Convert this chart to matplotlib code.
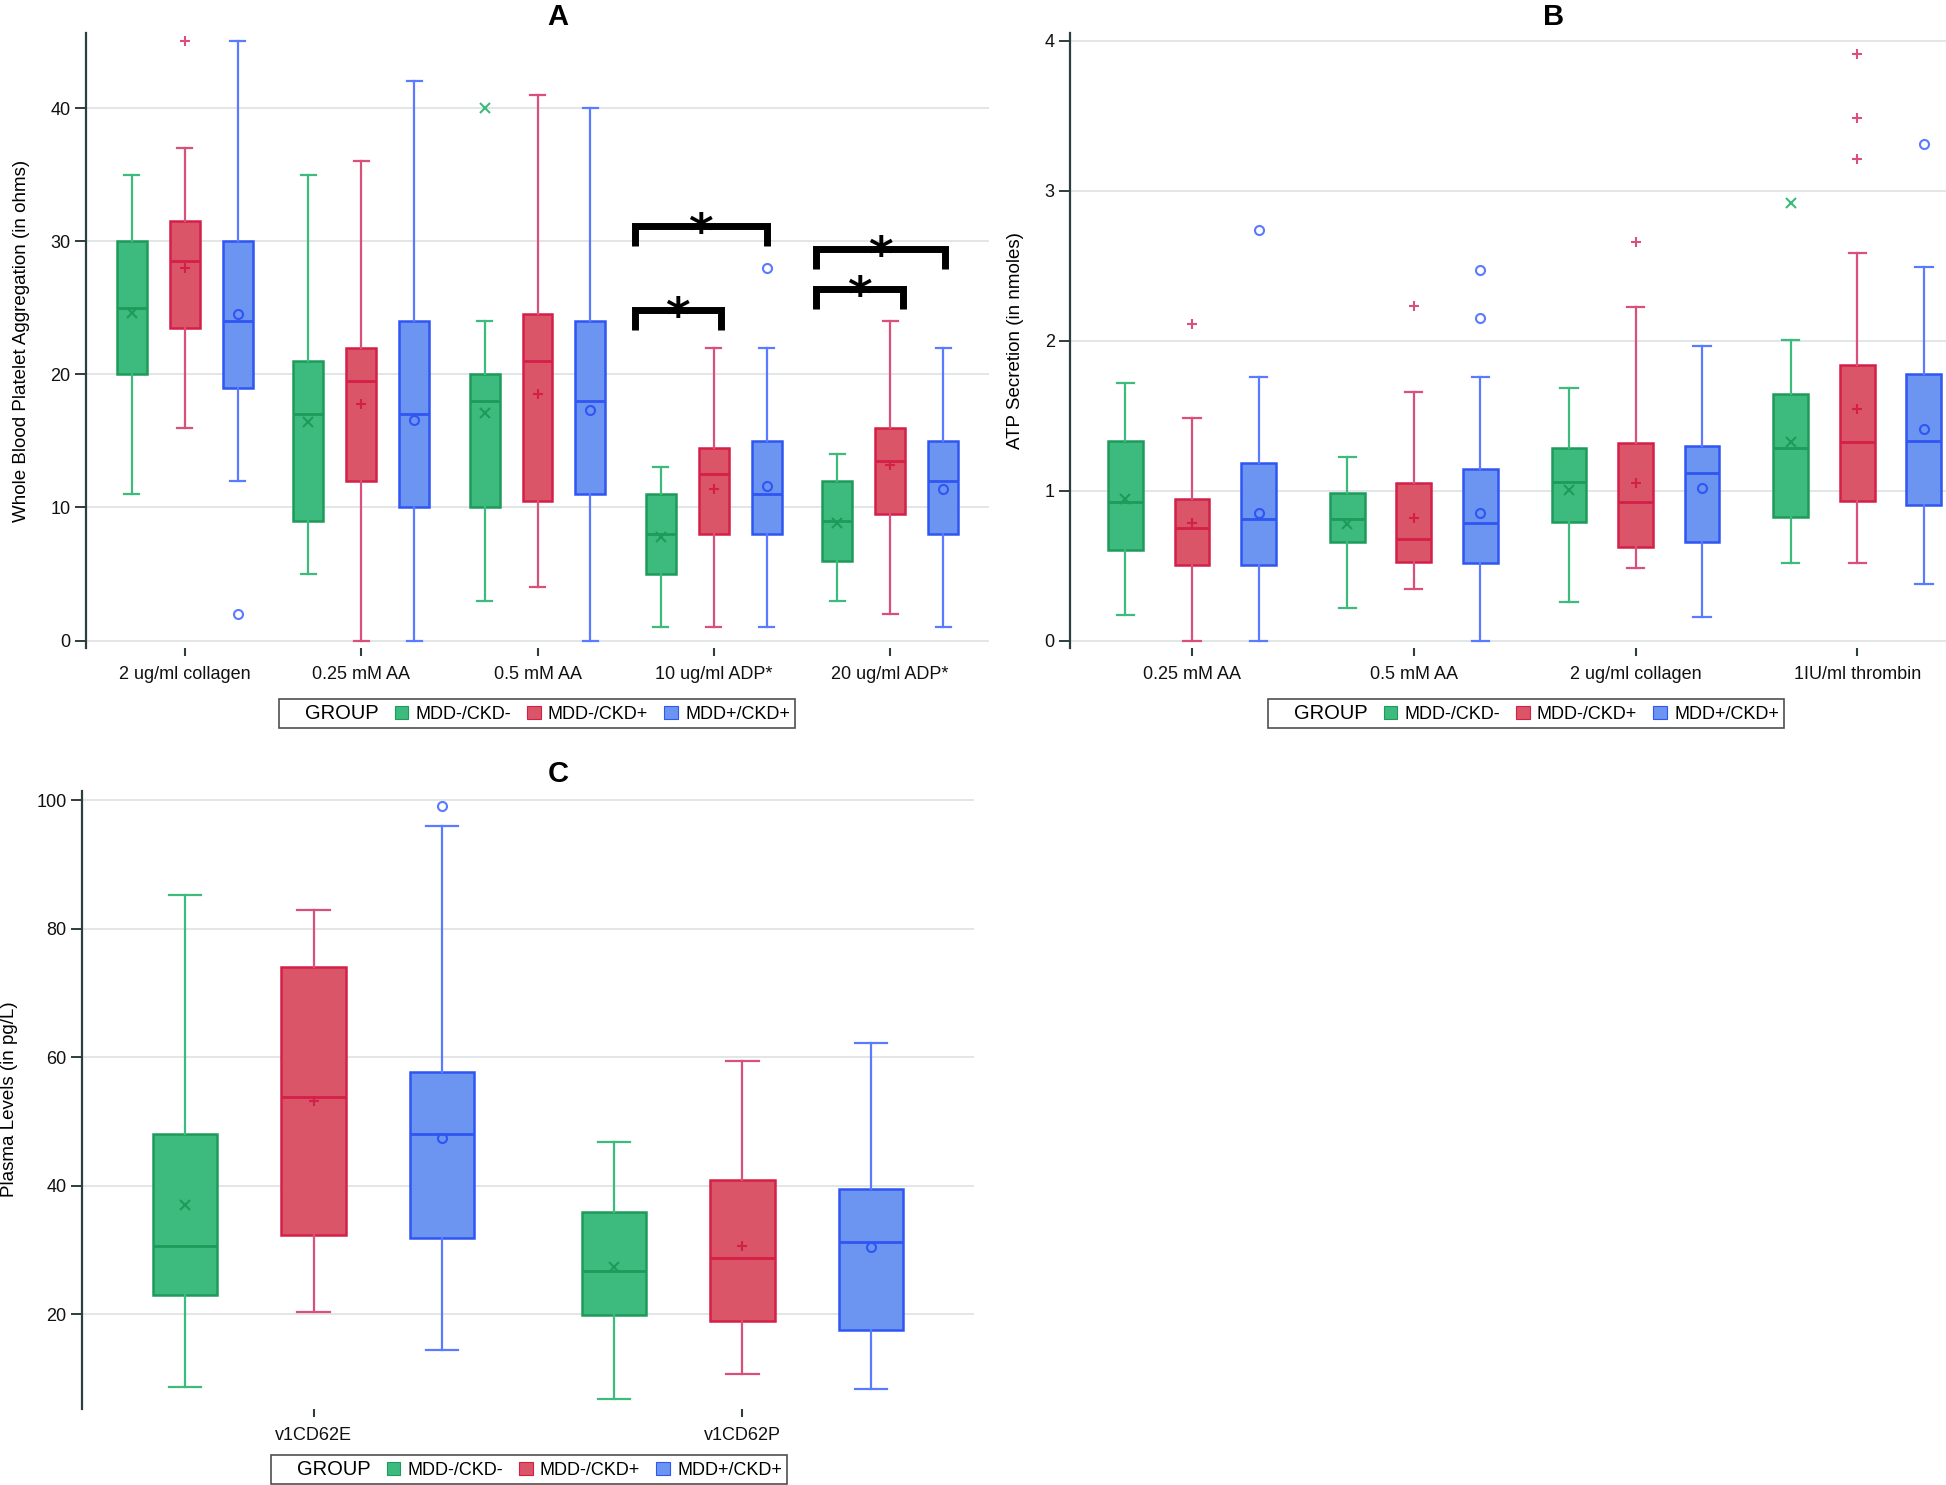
import matplotlib
matplotlib.use("Agg")
import matplotlib.pyplot as plt
from matplotlib.patches import Patch

plt.rcParams["font.family"] = ["Liberation Sans", "DejaVu Sans"]

GROUPS = ["MDD-/CKD-", "MDD-/CKD+", "MDD+/CKD+"]

# Panel A: whole blood platelet aggregation (rows = groups, cols = categories)
A_CATS = ["2 ug/ml collagen", "0.25 mM AA", "0.5 mM AA", "10 ug/ml ADP*", "20 ug/ml ADP*"]
A_WLO = [[11, 5, 3, 1, 3], [16, 0, 4, 1, 2], [12, 0, 0, 1, 1]]
A_Q1 = [[20, 9, 10, 5, 6], [23.5, 12, 10.5, 8, 9.5], [19, 10, 11, 8, 8]]
A_MED = [[25, 17, 18, 8, 9], [28.5, 19.5, 21, 12.5, 13.5], [24, 17, 18, 11, 12]]
A_Q3 = [[30, 21, 20, 11, 12], [31.5, 22, 24.5, 14.5, 16], [30, 24, 24, 15, 15]]
A_WHI = [[35, 35, 24, 13, 14], [37, 36, 41, 22, 24], [45, 42, 40, 22, 22]]
A_MEAN = [[24.6, 16.4, 17.1, 7.75, 8.8], [28.0, 17.8, 18.5, 11.4, 13.2], [24.5, 16.6, 17.3, 11.6, 11.4]]
A_OUT = [[[], [], [40], [], []], [[45], [], [], [], []], [[2], [], [], [28], []]]
# significance brackets
A_SIG_X0 = [2.55, 2.55, 3.58, 3.58]
A_SIG_X1 = [3.04, 3.30, 4.07, 4.31]
A_SIG_Y = [24.85, 31.15, 26.4, 29.4]

# Panel B: ATP secretion
B_CATS = ["0.25 mM AA", "0.5 mM AA", "2 ug/ml collagen", "1IU/ml thrombin"]
B_WLO = [[0.167, 0.214, 0.255, 0.517], [0, 0.344, 0.485, 0.517], [0, 0, 0.158, 0.375]]
B_Q1 = [[0.602, 0.656, 0.794, 0.823], [0.507, 0.526, 0.624, 0.933], [0.507, 0.517, 0.659, 0.905]]
B_MED = [[0.924, 0.810, 1.056, 1.283], [0.753, 0.678, 0.927, 1.327], [0.813, 0.785, 1.116, 1.333]]
B_Q3 = [[1.333, 0.983, 1.286, 1.642], [0.943, 1.053, 1.321, 1.841], [1.185, 1.147, 1.296, 1.775]]
B_WHI = [[1.715, 1.226, 1.683, 2.005], [1.485, 1.658, 2.225, 2.585], [1.756, 1.756, 1.964, 2.493]]
B_MEAN = [[0.943, 0.779, 1.006, 1.327], [0.785, 0.82, 1.05, 1.545], [0.848, 0.851, 1.018, 1.412]]
B_OUT = [[[], [], [], [2.922]],
         [[2.115], [2.232], [2.66], [3.912, 3.489, 3.212]],
         [[2.742], [2.471, 2.153], [], [3.31]]]

# Panel C: plasma levels
C_CATS = ["v1CD62E", "v1CD62P"]
C_WLO = [[8.7, 6.8], [20.3, 10.6], [14.4, 8.4]]
C_Q1 = [[23.0, 19.8], [32.3, 18.95], [31.9, 17.5]]
C_MED = [[30.6, 26.7], [53.8, 28.8], [48.0, 31.2]]
C_Q3 = [[48.0, 35.9], [74.1, 40.9], [57.7, 39.5]]
C_WHI = [[85.2, 46.8], [82.9, 59.4], [96.0, 62.2]]
C_MEAN = [[36.9, 27.4], [53.2, 30.6], [47.4, 30.4]]
C_OUT = [[[], []], [[], []], [[99.1], []]]

FILL = ["#3dba7e", "#d95567", "#6c95f2"]
EDGE = ["#1e9a5a", "#d41f48", "#2f55f3"]
WHISK = ["#3dbb7c", "#d9507a", "#5a7aff"]
MARK = ["x", "+", "o"]
OFFSETS = [-0.30, 0.0, 0.30]
SPINE = "#2e3d3d"


def draw_panel(ax, cats, wlo, q1, med, q3, whi, mean, out, width):
    for g in range(3):
        stats = []
        for i in range(len(cats)):
            stats.append(dict(whislo=wlo[g][i], q1=q1[g][i], med=med[g][i], q3=q3[g][i],
                              whishi=whi[g][i], mean=mean[g][i], fliers=out[g][i]))
        mfc = "none" if MARK[g] == "o" else EDGE[g]
        ax.bxp(stats, positions=[i + OFFSETS[g] for i in range(len(cats))], widths=width,
               patch_artist=True, showmeans=True, manage_ticks=False,
               boxprops=dict(facecolor=FILL[g], edgecolor=EDGE[g], linewidth=1.8),
               medianprops=dict(color=EDGE[g], linewidth=2.0),
               whiskerprops=dict(color=WHISK[g], linewidth=1.6),
               capprops=dict(color=WHISK[g], linewidth=1.6),
               meanprops=dict(marker=MARK[g], markeredgecolor=EDGE[g], markerfacecolor=mfc,
                              markersize=6.5, markeredgewidth=1.5),
               flierprops=dict(marker=MARK[g], markeredgecolor=WHISK[g], markerfacecolor=mfc,
                               markersize=6.5, markeredgewidth=1.5))
    ax.set_xticks(range(len(cats)))
    ax.set_xticklabels(cats, fontsize=13)
    for s in ["top", "right", "bottom"]:
        ax.spines[s].set_visible(False)
    ax.spines["left"].set_color(SPINE)
    ax.spines["left"].set_linewidth(1.6)
    ax.tick_params(axis="x", length=6, width=1.5, color=SPINE, pad=7, labelcolor="#111111")
    ax.tick_params(axis="y", length=8, width=1.4, color=SPINE, pad=3, labelsize=13,
                   labelcolor="#111111")
    ax.yaxis.grid(True, color="#dfe4e4", linewidth=1.3)
    ax.set_axisbelow(True)


def add_legend(fig, cx, cy):
    handles = [Patch(facecolor="none", edgecolor="none")]
    handles += [Patch(facecolor=FILL[g], edgecolor=EDGE[g], linewidth=0.8) for g in range(3)]
    labels = ["GROUP"] + GROUPS
    leg = fig.legend(handles, labels, loc="center", bbox_to_anchor=(cx / 1946, 1 - cy / 1485),
                     ncol=4, fontsize=13, handlelength=0.75, handleheight=0.75,
                     handletextpad=0.4, columnspacing=0.9, borderpad=0.25, borderaxespad=0,
                     frameon=True, fancybox=False)
    leg.get_frame().set_edgecolor("#222222")
    leg.get_frame().set_linewidth(1.2)
    leg.get_texts()[0].set_fontsize(14.5)


fig = plt.figure(figsize=(19.46, 14.85), dpi=100)

# Panel A
axA = fig.add_axes([86 / 1946, 1 - 648 / 1485, 903 / 1946, 614.5 / 1485])
draw_panel(axA, A_CATS, A_WLO, A_Q1, A_MED, A_Q3, A_WHI, A_MEAN, A_OUT, 0.17)
axA.set_xlim(-0.56, 4.56)
axA.set_ylim(-0.56, 45.6)
axA.set_yticks([0, 10, 20, 30, 40])
axA.set_ylabel("Whole Blood Platelet Aggregation (in ohms)", fontsize=13.5)
axA.yaxis.set_label_coords(-0.062, 0.5)
axA.set_title("A", fontsize=21, fontweight="bold", x=0.523, pad=6)
for x0, x1, y in zip(A_SIG_X0, A_SIG_X1, A_SIG_Y):
    axA.plot([x0, x0, x1, x1], [y - 1.5, y, y, y - 1.5], color="black", linewidth=5,
             solid_joinstyle="miter", solid_capstyle="butt", clip_on=False)
    axA.annotate("*", ((x0 + x1) / 2, y), xytext=(0, -15), textcoords="offset points",
                 ha="center", va="baseline", fontsize=34, fontweight="bold",
                 family="DejaVu Sans")

# Panel B
axB = fig.add_axes([1070 / 1946, 1 - 648 / 1485, 876 / 1946, 614.5 / 1485])
draw_panel(axB, B_CATS, B_WLO, B_Q1, B_MED, B_Q3, B_WHI, B_MEAN, B_OUT, 0.157)
axB.set_xlim(-0.55, 3.4)
axB.set_ylim(-0.05, 4.05)
axB.set_yticks([0, 1, 2, 3, 4])
axB.set_ylabel("ATP Secretion (in nmoles)", fontsize=13.5)
axB.yaxis.set_label_coords(-0.0525, 0.5)
axB.set_title("B", fontsize=21, fontweight="bold", x=0.5525, pad=6)

# Panel C
axC = fig.add_axes([82 / 1946, 1 - 1408.5 / 1485, 892 / 1946, 618 / 1485])
draw_panel(axC, C_CATS, C_WLO, C_Q1, C_MED, C_Q3, C_WHI, C_MEAN, C_OUT, 0.15)
axC.set_xlim(-0.54, 1.54)
axC.set_ylim(5.3, 101.5)
axC.set_yticks([20, 40, 60, 80, 100])
axC.set_ylabel("Plasma Levels (in pg/L)", fontsize=13.5)
axC.yaxis.set_label_coords(-0.072, 0.5)
axC.set_title("C", fontsize=21, fontweight="bold", x=0.534, pad=6)

add_legend(fig, 537, 713.5)
add_legend(fig, 1526, 713.5)
add_legend(fig, 529, 1469.5)

fig.savefig("out.png", dpi=100)
